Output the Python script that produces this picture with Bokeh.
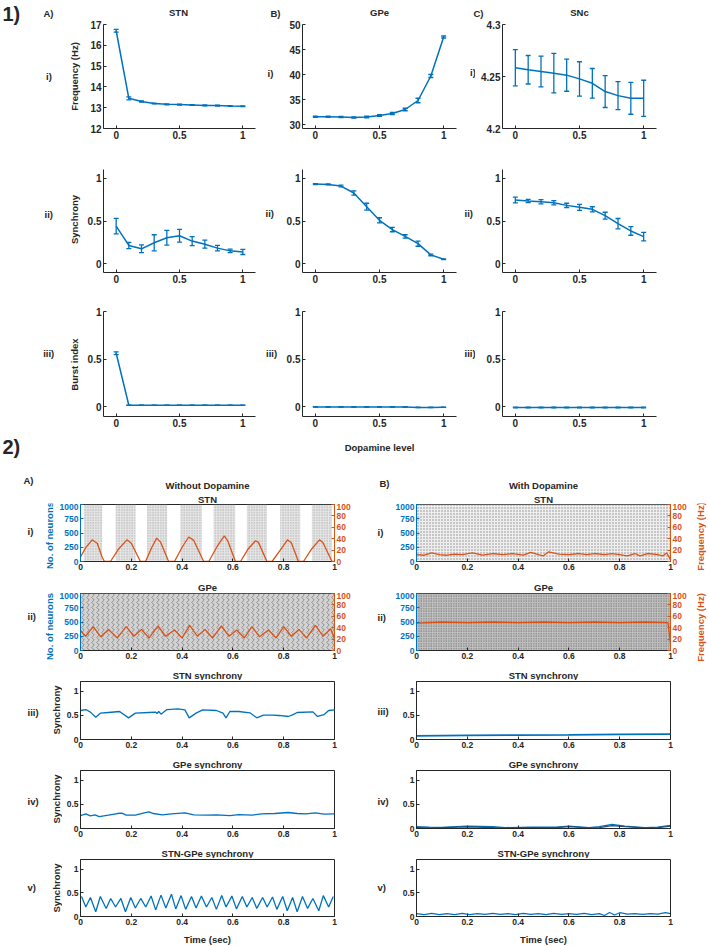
from math import pi
from bokeh.plotting import figure
from bokeh.layouts import column, row
from bokeh.models import (Range1d, LinearAxis, Whisker, TeeHead,
                          ColumnDataSource, FixedTicker, NumeralTickFormatter)
from bokeh.core.properties import value
from bokeh.embed import file_html
from bokeh.resources import INLINE

# ---------------------------------------------------------------- data
dopamine = [0.0, 0.1, 0.2, 0.3, 0.4, 0.5, 0.6, 0.7, 0.8, 0.9, 1.0]
dose_ticks = [0, 0.5, 1]

stn_freq = [16.70, 13.45, 13.30, 13.20, 13.16, 13.15, 13.13, 13.11, 13.10, 13.08, 13.07]
stn_freq_err = [0.07, 0.07, 0.03, 0.02, 0.02, 0.02, 0.02, 0.02, 0.02, 0.02, 0.02]
gpe_freq = [31.55, 31.55, 31.50, 31.40, 31.50, 31.80, 32.20, 33.00, 34.80, 39.70, 47.50]
gpe_freq_err = [0.10, 0.10, 0.10, 0.10, 0.15, 0.15, 0.20, 0.25, 0.45, 0.30, 0.20]
snc_freq = [4.2584, 4.2565, 4.2548, 4.2532, 4.2513, 4.2477, 4.2435, 4.2355, 4.2316, 4.2290, 4.2290]
snc_freq_err = [0.0174, 0.0137, 0.0148, 0.0190, 0.0155, 0.0165, 0.0142, 0.0153, 0.0134, 0.0153, 0.0174]

stn_sync = [0.440, 0.215, 0.176, 0.246, 0.305, 0.328, 0.266, 0.230, 0.184, 0.152, 0.140]
stn_sync_err = [0.090, 0.037, 0.045, 0.094, 0.086, 0.074, 0.053, 0.047, 0.033, 0.020, 0.030]
gpe_sync = [0.930, 0.926, 0.907, 0.826, 0.667, 0.508, 0.400, 0.320, 0.236, 0.105, 0.054]
gpe_sync_err = [0.005, 0.005, 0.010, 0.025, 0.040, 0.030, 0.025, 0.020, 0.030, 0.010, 0.005]
snc_sync = [0.744, 0.733, 0.725, 0.713, 0.682, 0.659, 0.636, 0.562, 0.469, 0.384, 0.318]
snc_sync_err = [0.033, 0.020, 0.025, 0.025, 0.025, 0.035, 0.030, 0.040, 0.060, 0.050, 0.050]

stn_burst = [0.563, 0.018, 0.018, 0.018, 0.018, 0.018, 0.018, 0.018, 0.018, 0.018, 0.018]
stn_burst_err = [0.015, 0.002, 0.002, 0.002, 0.002, 0.002, 0.002, 0.002, 0.002, 0.002, 0.002]
gpe_burst = [0.0, 0.0, 0.0, 0.0, 0.0, 0.0, 0.0, 0.0, -0.005, -0.005, -0.003]
gpe_burst_err = [0.002, 0.002, 0.002, 0.002, 0.002, 0.002, 0.002, 0.002, 0.002, 0.002, 0.002]
snc_burst = [-0.005, -0.005, -0.005, -0.005, -0.005, -0.005, -0.005, -0.005, -0.005, -0.005, -0.005]
snc_burst_err = [0.004, 0.004, 0.004, 0.004, 0.004, 0.004, 0.004, 0.004, 0.004, 0.004, 0.004]

# time-domain panels
n_neurons = 1000
sim_duration = 1.0
time_ticks = [0, 0.2, 0.4, 0.6, 0.8, 1]
neuron_ticks = [0, 250, 500, 750, 1000]
rate_ticks = [0, 20, 40, 60, 80, 100]
sync_ticks = [0, 0.5, 1]

# STN bursts without dopamine (raster band extents, s)
stn_band_start = [0.013, 0.138, 0.262, 0.393, 0.524, 0.655, 0.786, 0.911]
stn_band_end = [0.085, 0.217, 0.341, 0.478, 0.609, 0.734, 0.865, 0.990]

# population firing rate (Hz)
stn_rate_nd_t = [0, 0.02, 0.046, 0.055, 0.066, 0.085, 0.094, 0.118, 0.15, 0.183, 0.20,
                 0.236, 0.256, 0.28, 0.30, 0.315, 0.347, 0.37, 0.40, 0.426, 0.446,
                 0.485, 0.505, 0.54, 0.566, 0.58, 0.61, 0.63, 0.66, 0.688, 0.70,
                 0.734, 0.754, 0.79, 0.815, 0.83, 0.858, 0.878, 0.91, 0.941, 0.955,
                 0.99, 1.0]
stn_rate_nd = [8, 24, 38, 35, 32, 8, 0, 0, 22, 38, 32, 0, 0, 24, 41, 34, 0, 0, 25, 43, 37,
               0, 0, 28, 45, 36, 0, 0, 22, 36, 34, 0, 0, 22, 38, 33, 0, 0, 22, 38, 33, 0, 0]
gpe_rate_nd_t = [0, 0.02, 0.05, 0.08, 0.11, 0.145, 0.18, 0.21, 0.24, 0.27, 0.305, 0.335,
                 0.37, 0.40, 0.43, 0.46, 0.49, 0.52, 0.555, 0.585, 0.615, 0.645, 0.675,
                 0.705, 0.74, 0.77, 0.80, 0.83, 0.86, 0.89, 0.925, 0.955, 0.985, 1.0]
gpe_rate_nd = [35, 25, 42, 24, 37, 22, 42, 25, 37, 22, 43, 25, 36, 22, 44, 25, 37, 22,
               43, 25, 36, 22, 42, 24, 36, 22, 42, 25, 37, 22, 44, 25, 38, 20]
stn_rate_da_t = [0, 0.03, 0.06, 0.09, 0.12, 0.15, 0.18, 0.22, 0.26, 0.30, 0.34, 0.38,
                 0.42, 0.45, 0.48, 0.50, 0.52, 0.56, 0.60, 0.64, 0.67, 0.70, 0.74, 0.77,
                 0.80, 0.83, 0.86, 0.88, 0.91, 0.95, 0.97, 0.985, 1.0]
stn_rate_da = [12, 11, 15, 12, 11, 13, 12, 15, 11, 14, 12, 14, 11, 16, 12, 10, 17, 13,
               12, 14, 12, 14, 12, 14, 12, 10, 14, 10, 14, 12, 10, 15, 3]
gpe_rate_da_t = [0, 0.1, 0.2, 0.3, 0.4, 0.5, 0.6, 0.7, 0.8, 0.9, 0.99, 1.0]
gpe_rate_da = [48, 50, 49, 50, 49, 50, 49, 50, 49, 50, 49, 12]

# synchrony traces
stn_syn_nd_t = [0, 0.021, 0.039, 0.06, 0.078, 0.11, 0.154, 0.189, 0.216, 0.269, 0.296,
                0.301, 0.308, 0.317, 0.34, 0.384, 0.411, 0.428, 0.455, 0.481, 0.535,
                0.561, 0.573, 0.588, 0.623, 0.667, 0.694, 0.72, 0.756, 0.782, 0.818,
                0.835, 0.853, 0.915, 0.933, 0.959, 0.977, 1.0]
stn_syn_nd = [0.60, 0.62, 0.566, 0.462, 0.545, 0.559, 0.579, 0.448, 0.545, 0.559, 0.566,
              0.538, 0.579, 0.524, 0.62, 0.634, 0.614, 0.448, 0.545, 0.614, 0.60,
              0.545, 0.448, 0.579, 0.579, 0.552, 0.448, 0.503, 0.503, 0.497, 0.476,
              0.51, 0.559, 0.572, 0.476, 0.517, 0.60, 0.614]
stn_syn_da_t = [0, 0.2, 0.4, 0.6, 0.8, 1.0]
stn_syn_da = [0.075, 0.085, 0.09, 0.095, 0.105, 0.11]
gpe_syn_nd_t = [0, 0.021, 0.039, 0.057, 0.074, 0.11, 0.145, 0.163, 0.18, 0.216, 0.251,
                0.269, 0.287, 0.322, 0.358, 0.411, 0.446, 0.499, 0.535, 0.588, 0.623,
                0.676, 0.712, 0.765, 0.818, 0.853, 0.888, 0.924, 0.959, 1.0]
gpe_syn_nd = [0.268, 0.303, 0.26, 0.282, 0.246, 0.275, 0.31, 0.317, 0.275, 0.275, 0.324,
              0.345, 0.31, 0.282, 0.303, 0.324, 0.282, 0.275, 0.282, 0.268, 0.289,
              0.275, 0.303, 0.31, 0.331, 0.31, 0.303, 0.324, 0.296, 0.303]
gpe_syn_da_t = [0, 0.05, 0.1, 0.2, 0.3, 0.35, 0.45, 0.55, 0.6, 0.68, 0.72, 0.77, 0.82,
                0.9, 0.95, 1.0]
gpe_syn_da_a = [0.04, 0.03, 0.025, 0.05, 0.04, 0.02, 0.03, 0.03, 0.05, 0.02, 0.04, 0.085,
                0.05, 0.02, 0.03, 0.065]
gpe_syn_da_b = [0.02, 0.015, 0.02, 0.035, 0.02, 0.01, 0.02, 0.02, 0.04, 0.01, 0.02, 0.06,
                0.04, 0.01, 0.02, 0.05]
sg_syn_nd_t = [0.004, 0.021, 0.039, 0.06, 0.078, 0.101, 0.119, 0.138, 0.159, 0.177, 0.198,
               0.216, 0.237, 0.257, 0.278, 0.296, 0.317, 0.336, 0.358, 0.375, 0.396,
               0.414, 0.437, 0.455, 0.476, 0.496, 0.517, 0.535, 0.556, 0.573, 0.596,
               0.614, 0.637, 0.655, 0.676, 0.694, 0.717, 0.735, 0.756, 0.773, 0.796,
               0.814, 0.835, 0.853, 0.874, 0.894, 0.915, 0.938, 0.956, 0.977, 0.995]
sg_syn_nd = [0.42, 0.20, 0.40, 0.10, 0.42, 0.17, 0.38, 0.20, 0.38, 0.10, 0.40, 0.18,
             0.38, 0.20, 0.43, 0.14, 0.45, 0.18, 0.47, 0.16, 0.44, 0.15, 0.42, 0.18,
             0.43, 0.20, 0.40, 0.15, 0.44, 0.20, 0.43, 0.16, 0.42, 0.20, 0.40, 0.17,
             0.40, 0.20, 0.41, 0.15, 0.42, 0.12, 0.40, 0.10, 0.42, 0.17, 0.38, 0.12,
             0.44, 0.20, 0.42]
sg_syn_da_t = [0, 0.03, 0.06, 0.09, 0.12, 0.15, 0.18, 0.21, 0.24, 0.27, 0.30, 0.33, 0.36,
               0.39, 0.42, 0.45, 0.48, 0.51, 0.54, 0.57, 0.60, 0.63, 0.66, 0.69, 0.72,
               0.74, 0.76, 0.78, 0.80, 0.83, 0.86, 0.89, 0.92, 0.95, 0.98, 1.0]
sg_syn_da = [0.06, 0.04, 0.065, 0.04, 0.06, 0.04, 0.065, 0.04, 0.06, 0.045, 0.065, 0.045,
             0.06, 0.04, 0.065, 0.045, 0.06, 0.04, 0.065, 0.045, 0.06, 0.045, 0.065,
             0.04, 0.06, 0.02, 0.085, 0.03, 0.08, 0.05, 0.06, 0.045, 0.06, 0.05, 0.08, 0.06]

# ---------------------------------------------------------------- style
FONT = "Liberation Sans"
DARK = "#262626"
BLUE = "#0072BD"
ORANGE = "#D95319"
TXT = "9.5px"


def style_axis(ax, color=DARK, fs="10px"):
    ax.axis_line_color = color
    ax.axis_line_width = 1
    ax.major_tick_line_color = color
    ax.minor_tick_line_color = None
    ax.major_tick_in = 3
    ax.major_tick_out = 0
    ax.major_label_text_color = color
    ax.major_label_text_font = FONT
    ax.major_label_text_font_style = "bold"
    ax.major_label_text_font_size = fs
    ax.major_label_standoff = 2


def make_fig(w, h, l, r, t, b, xr, yr, box=False):
    p = figure(width=w, height=h, x_range=Range1d(*xr), y_range=Range1d(*yr),
               output_backend="svg", toolbar_location=None,
               min_border_left=l, min_border_right=r, min_border_top=t,
               min_border_bottom=b)
    p.xgrid.visible = False
    p.ygrid.visible = False
    p.outline_line_color = DARK if box else None
    p.outline_line_width = 1
    p.background_fill_color = "white"
    p.border_fill_color = "white"
    return p


def text_fig(x0, y0, w, h, items):
    """A plain canvas whose data units are page pixels (y downwards)."""
    p = figure(width=w, height=h, x_range=Range1d(x0, x0 + w), y_range=Range1d(y0 + h, y0),
               output_backend="svg", toolbar_location=None,
               x_axis_location=None, y_axis_location=None,
               min_border_left=0, min_border_right=0, min_border_top=0, min_border_bottom=0)
    p.xgrid.visible = False
    p.ygrid.visible = False
    p.outline_line_color = None
    p.background_fill_color = "white"
    p.border_fill_color = "white"
    for it in items:
        x, y, s = it[0], it[1], it[2]
        opts = dict(size=TXT, color=DARK, align="left", angle=0.0)
        opts.update(it[3] if len(it) > 3 else {})
        p.text(x=[x], y=[y], text=[s], angle=opts["angle"],
               text_font=value(FONT), text_font_style="bold",
               text_font_size=opts["size"], text_color=opts["color"],
               text_align=opts["align"], text_baseline="middle")
    return p


C = {"align": "center"}
ROT = {"align": "center", "angle": pi / 2}


def dose_panel(w, h, l, r, t, b, yr, yticks, fmt, y, err):
    p = make_fig(w, h, l, r, t, b, (-0.1, 1.1), yr)
    style_axis(p.xaxis[0])
    style_axis(p.yaxis[0])
    p.xaxis.ticker = FixedTicker(ticks=dose_ticks)
    p.xaxis.formatter = NumeralTickFormatter(format="0.[0]")
    p.yaxis.ticker = FixedTicker(ticks=yticks)
    p.yaxis.formatter = NumeralTickFormatter(format=fmt)
    src = ColumnDataSource(dict(x=dopamine, y=y,
                                lo=[a - e for a, e in zip(y, err)],
                                hi=[a + e for a, e in zip(y, err)]))
    p.line("x", "y", source=src, line_color=BLUE, line_width=1.5)
    p.add_layout(Whisker(base="x", lower="lo", upper="hi", source=src,
                         line_color=BLUE, line_width=1.3,
                         lower_head=TeeHead(size=5, line_color=BLUE, line_width=1.3),
                         upper_head=TeeHead(size=5, line_color=BLUE, line_width=1.3)))
    return p


def time_axes(p, left_color, yticks, yfmt, rate=False):
    style_axis(p.xaxis[0], DARK, "8.5px")
    p.xaxis[0].ticker = FixedTicker(ticks=time_ticks)
    p.xaxis[0].formatter = NumeralTickFormatter(format="0.[0]")
    style_axis(p.yaxis[0], left_color, "8.5px")
    p.yaxis[0].ticker = FixedTicker(ticks=yticks)
    p.yaxis[0].formatter = NumeralTickFormatter(format=yfmt)
    if rate:
        p.extra_y_ranges = {"rate": Range1d(0, 100)}
        ra = LinearAxis(y_range_name="rate", ticker=FixedTicker(ticks=rate_ticks))
        style_axis(ra, ORANGE, "8.5px")
        p.add_layout(ra, "right")


def raster_panel(w, h, l, r, t, b):
    p = make_fig(w, h, l, r, t, b, (0, sim_duration), (0, n_neurons), box=True)
    time_axes(p, BLUE, neuron_ticks, "0", rate=True)
    return p


def sync_panel(w, h, l, r, t, b):
    p = make_fig(w, h, l, r, t, b, (0, sim_duration), (0, 1.2), box=True)
    time_axes(p, DARK, sync_ticks, "0.[0]")
    return p


# ---------------------------------------------------------------- part 1
RA = (178, 17, 7)
RB = (184, 24, 6)
RC = (232, 27, 51)
H_I = (126, 5, 17)
H_II = (142, 24, 15)
H_III = (149, 24, 20)


def g(X, H):
    return (X[0], H[0], X[1], X[2], H[1], H[2])


a1 = dose_panel(*g(RA, H_I), (12, 17), [12, 13, 14, 15, 16, 17], "0", stn_freq, stn_freq_err)
b1 = dose_panel(*g(RB, H_I), (29.2, 50), [30, 35, 40, 45, 50], "0", gpe_freq, gpe_freq_err)
c1 = dose_panel(*g(RC, H_I), (4.2, 4.3), [4.2, 4.25, 4.3], "0.[00]", snc_freq, snc_freq_err)
a2 = dose_panel(*g(RA, H_II), (-0.1, 1.1), [0, 0.5, 1], "0.[0]", stn_sync, stn_sync_err)
b2 = dose_panel(*g(RB, H_II), (-0.1, 1.1), [0, 0.5, 1], "0.[0]", gpe_sync, gpe_sync_err)
c2 = dose_panel(*g(RC, H_II), (-0.1, 1.1), [0, 0.5, 1], "0.[0]", snc_sync, snc_sync_err)
a3 = dose_panel(*g(RA, H_III), (-0.1, 1.0), [0, 0.5, 1], "0.[0]", stn_burst, stn_burst_err)
b3 = dose_panel(*g(RB, H_III), (-0.1, 1.0), [0, 0.5, 1], "0.[0]", gpe_burst, gpe_burst_err)
c3 = dose_panel(*g(RC, H_III), (-0.1, 1.0), [0, 0.5, 1], "0.[0]", snc_burst, snc_burst_err)

l0 = text_fig(0, 0, 84, 458, [
    (2, 13, "1)", {"size": "20px"}), (43, 12.7, "A)"),
    (45.5, 76, "i)"), (74, 76, "Frequency (Hz)", ROT),
    (44, 214, "ii)"), (74, 219, "Synchrony", ROT),
    (42.7, 353, "iii)"), (74, 364, "Burst index", ROT),
    (2, 446, "2)", {"size": "20px"})])
h0 = text_fig(84, 0, 624, 19, [
    (178, 11.5, "STN", C),
    (270, 12.7, "B)"), (379, 11.5, "GPe", C),
    (473, 12.7, "C)"), (579, 11.5, "SNc", C)])
l1 = text_fig(262, 19, 16, 417, [
    (267, 73, "i)"), (265, 213, "ii)"), (265.5, 353, "iii)")])
l2 = text_fig(462, 19, 13, 417, [
    (469.5, 72, "i)"), (464, 213, "ii)"), (464, 353, "iii)")])
h1 = text_fig(84, 436, 624, 22, [(379, 447, "Dopamine level", C)])

part1 = row(
    l0,
    column(h0,
           row(column(a1, a2, a3), l1, column(b1, b2, b3), l2, column(c1, c2, c3)),
           h1))

# ---------------------------------------------------------------- part 2
stn_nd = raster_panel(299, 77, 25, 20, 1, 19)
stn_da = raster_panel(298, 77, 24, 20, 1, 19)
gpe_nd = raster_panel(299, 72, 25, 20, 1, 14)
gpe_da = raster_panel(298, 72, 24, 20, 1, 14)

# raster textures
stn_nd.quad(left=stn_band_start, right=stn_band_end, bottom=0, top=n_neurons,
            fill_color="#d0d0d0", fill_alpha=0.5, line_color=None,
            hatch_pattern=".", hatch_color="#707070", hatch_scale=2.6, hatch_alpha=0.6)
gpe_nd.quad(left=[0], right=[sim_duration], bottom=[0], top=[n_neurons],
            fill_color="#d2d2d2", line_color=None,
            hatch_pattern=">", hatch_color="#7a7a7a", hatch_scale=5.0, hatch_weight=0.8)
stn_da.quad(left=[0], right=[sim_duration], bottom=[0], top=[n_neurons],
            fill_color="#eeeeee", line_color=None,
            hatch_pattern=".", hatch_color="#8a8a8a", hatch_scale=3.0)
gpe_da.quad(left=[0], right=[sim_duration], bottom=[0], top=[n_neurons],
            fill_color="#c2c2c2", line_color=None,
            hatch_pattern=".", hatch_color="#5a5a5a", hatch_scale=2.5)

stn_nd.line(stn_rate_nd_t, stn_rate_nd, y_range_name="rate", line_color=ORANGE, line_width=1.3)
gpe_nd.line(gpe_rate_nd_t, gpe_rate_nd, y_range_name="rate", line_color=ORANGE, line_width=1.3)
stn_da.line(stn_rate_da_t, stn_rate_da, y_range_name="rate", line_color=ORANGE, line_width=1.3)
gpe_da.line(gpe_rate_da_t, gpe_rate_da, y_range_name="rate", line_color=ORANGE, line_width=1.3)

s1l = sync_panel(292, 73, 18, 20, 1, 14)
s1r = sync_panel(316, 73, 24, 38, 1, 14)
s2l = sync_panel(292, 72, 18, 20, 1, 13)
s2r = sync_panel(316, 72, 24, 38, 1, 13)
s3l = sync_panel(292, 74, 18, 20, 1, 16)
s3r = sync_panel(316, 74, 24, 38, 1, 16)

s1l.line(stn_syn_nd_t, stn_syn_nd, line_color=BLUE, line_width=1.3)
s1r.line(stn_syn_da_t, stn_syn_da, line_color=BLUE, line_width=1.8)
s2l.line(gpe_syn_nd_t, gpe_syn_nd, line_color=BLUE, line_width=1.3)
s2r.line(gpe_syn_da_t, gpe_syn_da_a, line_color=BLUE, line_width=1.2)
s2r.line(gpe_syn_da_t, gpe_syn_da_b, line_color="#1f4e79", line_width=1.2)
s3l.line(sg_syn_nd_t, sg_syn_nd, line_color=BLUE, line_width=1.3)
s3r.line(sg_syn_da_t, sg_syn_da, line_color=BLUE, line_width=1.2)

BL = {"align": "center", "angle": pi / 2, "color": BLUE}
OR = {"align": "center", "angle": pi / 2, "color": ORANGE}

# panels are wrapped in their own column so that their frames are not
# aligned with the neighbouring text canvases
h2 = text_fig(0, 458, 708, 45, [
    (23, 480, "A)"), (207, 484.5, "Without Dopamine", C), (207, 498.5, "STN", C),
    (379, 482.5, "B)"), (543, 484.5, "With Dopamine", C), (543, 498.5, "STN", C)])
q1 = row(text_fig(0, 503, 55, 77, [(27, 531, "i)"), (49, 535, "No. of neurons", BL)]),
         column(stn_nd),
         text_fig(354, 503, 38, 77, [(377, 531.5, "i)")]),
         column(stn_da),
         text_fig(690, 503, 18, 77, [(700, 536, "Frequency (Hz)", OR)]))
t2 = text_fig(0, 580, 708, 12, [(207, 587, "GPe", C), (543, 587, "GPe", C)])
q2 = row(text_fig(0, 592, 55, 72, [(27, 616, "ii)"), (49, 626, "No. of neurons", BL)]),
         column(gpe_nd),
         text_fig(354, 592, 38, 72, [(377, 616.5, "ii)")]),
         column(gpe_da),
         text_fig(690, 592, 18, 72, [(700, 627, "Frequency (Hz)", OR)]))
t3 = text_fig(0, 664, 708, 16, [(207, 675, "STN synchrony", C), (543, 675, "STN synchrony", C)])
q3 = row(text_fig(0, 680, 62, 73, [(27, 711.5, "iii)"), (56, 709.5, "Synchrony", ROT)]),
         column(s1l),
         text_fig(354, 680, 38, 73, [(377, 711, "iii)")]),
         column(s1r))
t4 = text_fig(0, 753, 708, 16, [(207, 763.5, "GPe synchrony", C), (543, 763.5, "GPe synchrony", C)])
q4 = row(text_fig(0, 769, 62, 72, [(27, 800.5, "iv)"), (56, 798.5, "Synchrony", ROT)]),
         column(s2l),
         text_fig(354, 769, 38, 72, [(377, 800.5, "iv)")]),
         column(s2r))
t5 = text_fig(0, 841, 708, 17, [(207, 852.5, "STN-GPe synchrony", C),
                                (543, 852.5, "STN-GPe synchrony", C)])
q5 = row(text_fig(0, 858, 62, 74, [(27, 887, "v)"), (56, 887.5, "Synchrony", ROT)]),
         column(s3l),
         text_fig(354, 858, 38, 74, [(377, 887, "v)")]),
         column(s3r))
t6 = text_fig(0, 932, 708, 14, [(207, 938.5, "Time (sec)", C), (543, 938.5, "Time (sec)", C)])

layout = column(part1, h2, q1, t2, q2, t3, q3, t4, q4, t5, q5, t6)

open("out.html", "w").write(file_html(layout, INLINE))
